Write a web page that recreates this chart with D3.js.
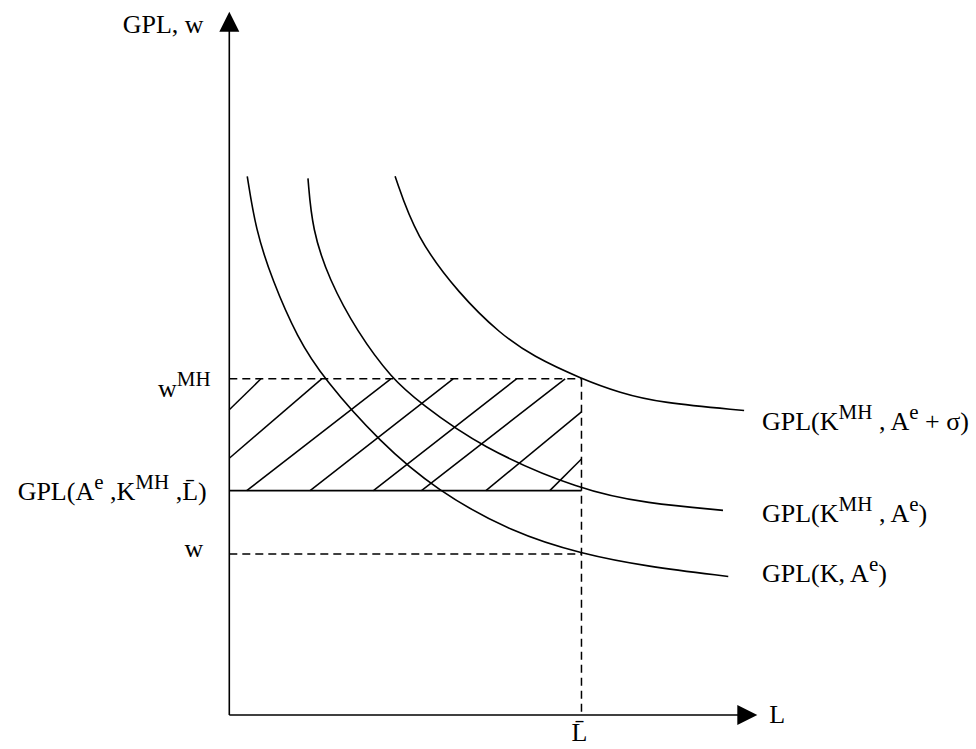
<!DOCTYPE html>
<meta charset="utf-8">
<style>
  body { margin: 0; background: #fff; }
  text { font-family: "Liberation Serif", "Times New Roman", serif; fill: #000; }
</style>
<svg width="976" height="749"></svg>
<script src="https://d3js.org/d3.v7.min.js"></script>
<script>

// curves, L on x (0..100), GPL / w on y (0..100)
var gplK = [[3.4,76.6],[5.0,69.0],[8.1,61.9],[12.9,53.6],[17.9,47.8],[28.5,38.8],[39.3,31.9],
            [53.7,25.9],[66.7,22.9],[79.1,21.1],[94.5,19.7]];
var gplKMH = [[14.9,76.3],[15.7,69.0],[18.9,61.9],[24.2,54.5],[30.8,47.8],[36.1,44.4],[47.5,38.1],
              [66.7,31.9],[79.1,30.1],[93.5,29.1]];
var gplKMHsigma = [[31.4,76.6],[35.3,68.0],[43.6,59.8],[51.3,54.2],[57.5,51.0],
                   [66.7,47.8],[74.0,45.8],[81.6,44.4],[97.5,43.3]];

// reference levels
var Lbar = 66.7, wMH = 47.8, gplBar = 31.9, w = 22.9;

// hatch strokes inside the rent rectangle [x1,y1,x2,y2]
var hatch = [[0,43.4,6.0,47.8],[0,36.5,17.5,47.8],[3.3,31.9,30.6,47.8],[15.3,31.9,42.4,47.8],
             [27.3,31.9,54.4,47.8],[36.4,31.9,63.6,47.8],[48.6,31.9,66.7,43.1],[60.7,31.9,66.7,36.4]];

var svg = d3.select("svg");
var x = d3.scaleLinear().domain([0,100]).range([229.3,757.3]),
    y = d3.scaleLinear().domain([0,100]).range([715,11.7]);

var line = d3.line().x(function(d){ return x(d[0]); }).y(function(d){ return y(d[1]); })
    .curve(d3.curveBasis);

// axes with arrow heads
svg.append("line").attr("x1",x(0)).attr("y1",y(0)).attr("x2",x(0)).attr("y2",y(100)+8)
  .attr("stroke","#000").attr("stroke-width",1.6);
svg.append("line").attr("x1",x(0)).attr("y1",y(0)).attr("x2",x(100)-8).attr("y2",y(0))
  .attr("stroke","#000").attr("stroke-width",1.6);
svg.append("path").attr("d","M"+x(0)+","+y(100)+"L"+(x(0)-10)+","+(y(100)+20)+"L"+(x(0)+10)+","+(y(100)+20)+"Z");
svg.append("path").attr("d","M"+x(100)+","+y(0)+"L"+(x(100)-20)+","+(y(0)-10)+"L"+(x(100)-20)+","+(y(0)+10)+"Z");

// dashed guides
var dash = "8,5";
[[0,wMH,Lbar,wMH],[0,w,Lbar,w],[Lbar,wMH,Lbar,0]].forEach(function(s){
  svg.append("line").attr("x1",x(s[0])).attr("y1",y(s[1])).attr("x2",x(s[2])).attr("y2",y(s[3]))
    .attr("stroke","#000").attr("stroke-width",1.5).attr("stroke-dasharray",dash);
});
svg.append("line").attr("x1",x(0)).attr("y1",y(gplBar)).attr("x2",x(Lbar)).attr("y2",y(gplBar))
  .attr("stroke","#000").attr("stroke-width",1.6);

svg.selectAll(".hatch").data(hatch).enter().append("line").attr("class","hatch")
  .attr("x1",function(d){return x(d[0]);}).attr("y1",function(d){return y(d[1]);})
  .attr("x2",function(d){return x(d[2]);}).attr("y2",function(d){return y(d[3]);})
  .attr("stroke","#000").attr("stroke-width",1.5);

svg.selectAll(".curve").data([gplK,gplKMH,gplKMHsigma]).enter().append("path").attr("class","curve")
  .attr("d",line).attr("fill","none").attr("stroke","#000").attr("stroke-width",1.6);

// labels: parts are [text, isSuperscript]
function label(px, py, parts, anchor){
  var t = svg.append("text").attr("x",px).attr("y",py).attr("font-size",26)
    .attr("text-anchor",anchor || "start");
  var up = false;
  parts.forEach(function(p){
    var s = t.append("tspan").text(p[0]);
    if (p[1] && !up) { s.attr("dy",-11).attr("font-size",21); up = true; }
    else if (p[1]) s.attr("font-size",21);
    else if (up) { s.attr("dy",11); up = false; }
  });
}

label(122.7,33,[["GPL, w"]]);
label(210.7,396.7,[["w"],["MH",1]],"end");
label(206.7,500,[["GPL(A"],["e",1],[" ,K"],["MH",1],[" ,L\u0304)"]],"end");
label(203.3,557,[["w"]],"end");
label(762,430,[["GPL(K"],["MH",1],[" , A"],["e",1],[" + \u03c3)"]]);
label(762,522,[["GPL(K"],["MH",1],[" , A"],["e",1],[")"]]);
label(762,582,[["GPL(K, A"],["e",1],[")"]]);
label(769.3,723.3,[["L"]]);
label(x(Lbar)-2,741,[["L\u0304"]],"middle");
</script>
